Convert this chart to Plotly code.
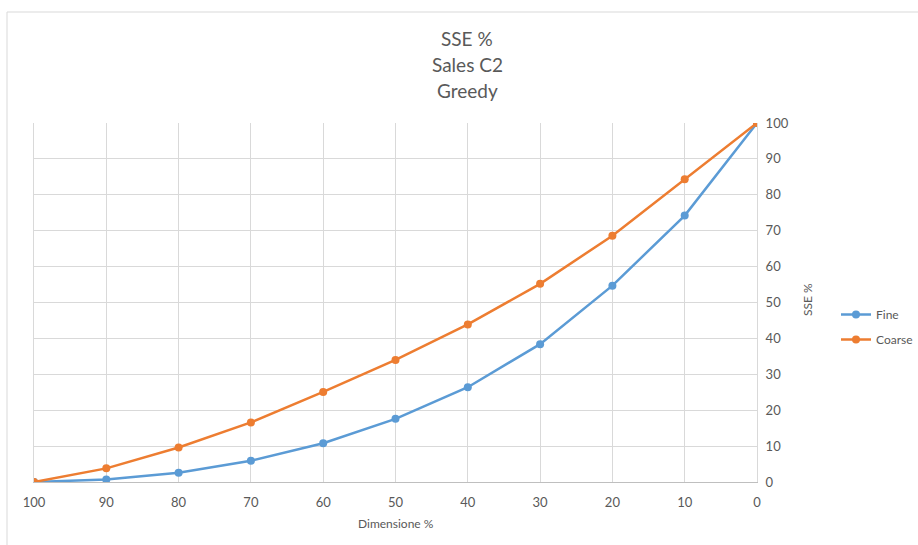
import plotly.graph_objects as go

dimensione = [100, 90, 80, 70, 60, 50, 40, 30, 20, 10, 0]
fine = [0, 0.7, 2.6, 5.9, 10.8, 17.6, 26.4, 38.4, 54.7, 74.2, 100]
coarse = [0, 3.8, 9.6, 16.6, 25.1, 34.0, 43.9, 55.2, 68.6, 84.3, 100]
x_ticks = [100, 90, 80, 70, 60, 50, 40, 30, 20, 10, 0]
y_ticks = [0, 10, 20, 30, 40, 50, 60, 70, 80, 90, 100]
title_lines = ["SSE %", "Sales C2", "Greedy"]

FONT = "Lato"
GREY = "#595959"

W, H = 918, 545
L, R, T, B = 34, 757, 123, 482

fig = go.Figure()
fig.add_trace(go.Scatter(x=dimensione, y=fine, name="Fine", mode="lines+markers", legendgroup="fine",
                         line=dict(color="#5B9BD5", width=2.5),
                         marker=dict(color="#5B9BD5", size=8)))
fig.add_trace(go.Scatter(x=dimensione, y=coarse, name="Coarse", mode="lines+markers", legendgroup="coarse",
                         line=dict(color="#ED7D31", width=2.5),
                         marker=dict(color="#ED7D31", size=8)))

def px_x(p):
    return (p - L) / (R - L)

def px_y(p):
    return (B - p) / (B - T)

annotations = []
for i, t in enumerate(title_lines):
    annotations.append(dict(text=t, xref="paper", yref="paper", x=px_x(467), y=px_y(38 + 26 * i),
                            showarrow=False, xanchor="center", yanchor="middle",
                            font=dict(family=FONT, size=19, color=GREY)))
annotations.append(dict(text="Dimensione %", xref="paper", yref="paper", x=px_x(396), y=px_y(523),
                        showarrow=False, xanchor="center", yanchor="middle",
                        font=dict(family=FONT, size=12, color=GREY)))
annotations.append(dict(text="SSE %", xref="paper", yref="paper", x=px_x(807), y=px_y(300),
                        showarrow=False, xanchor="center", yanchor="middle", textangle=-90,
                        font=dict(family=FONT, size=12, color=GREY)))

fig.update_layout(
    width=W, height=H,
    margin=dict(l=L, r=W - R, t=T, b=H - B, pad=0, autoexpand=False),
    paper_bgcolor="white", plot_bgcolor="white",
    font=dict(family=FONT, size=12, color=GREY),
    showlegend=True,
    legend=dict(x=px_x(836), y=px_y(300), xanchor="left", yanchor="top",
                font=dict(family=FONT, size=12, color=GREY),
                bgcolor="rgba(0,0,0,0)", itemwidth=30, tracegroupgap=6),
    annotations=annotations,
    shapes=[
        dict(type="line", xref="paper", yref="paper", x0=px_x(7), x1=px_x(930), y0=px_y(12), y1=px_y(12),
             line=dict(color="#d9d9d9", width=1)),
        dict(type="line", xref="paper", yref="paper", x0=px_x(7), x1=px_x(7), y0=px_y(12), y1=px_y(560),
             line=dict(color="#d9d9d9", width=1)),
    ],
)
fig.update_xaxes(range=[100, 0], tickmode="array", tickvals=x_ticks, ticktext=[str(v) for v in x_ticks],
                 showgrid=True, gridcolor="#d9d9d9", gridwidth=1, zeroline=False,
                 showline=True, linecolor="#bfbfbf", linewidth=1,
                 ticks="outside", ticklen=8, tickcolor="rgba(0,0,0,0)",
                 tickfont=dict(family=FONT, size=13, color=GREY))
fig.update_yaxes(range=[0, 100], side="right", tickmode="array", tickvals=y_ticks,
                 ticktext=[str(v) for v in y_ticks],
                 showgrid=True, gridcolor="#d9d9d9", gridwidth=1, zeroline=False,
                 showline=True, linecolor="#d9d9d9", linewidth=1, mirror=True,
                 ticks="outside", ticklen=5, tickcolor="rgba(0,0,0,0)",
                 tickfont=dict(family=FONT, size=13, color=GREY))

fig.write_html("out.html", config={"displayModeBar": False},
               post_script="document.body.style.margin='0px';")
